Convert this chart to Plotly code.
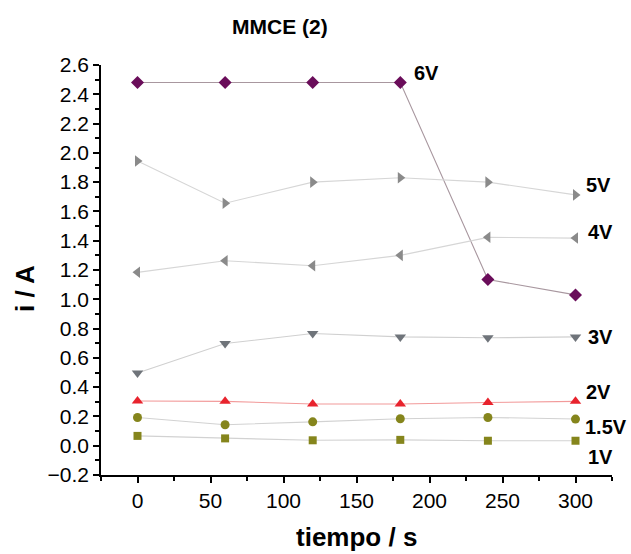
import plotly.graph_objects as go

# Sampling times (s)
tiempo = [0, 60, 120, 180, 240, 300]

# Current (A) for each applied voltage
i_6v = [2.48, 2.48, 2.48, 2.48, 1.135, 1.03]
i_5v = [1.945, 1.656, 1.80, 1.83, 1.80, 1.713]
i_4v = [1.184, 1.263, 1.229, 1.30, 1.423, 1.418]
i_3v = [0.497, 0.698, 0.766, 0.743, 0.737, 0.743]
i_2v = [0.305, 0.303, 0.285, 0.285, 0.295, 0.303]
i_1_5v = [0.193, 0.143, 0.163, 0.184, 0.193, 0.182]
i_1v = [0.067, 0.05, 0.037, 0.04, 0.034, 0.034]

series_labels = ["6V", "5V", "4V", "3V", "2V", "1.5V", "1V"]
series_values = [i_6v, i_5v, i_4v, i_3v, i_2v, i_1_5v, i_1v]

styles = {
    "6V": dict(symbol="diamond", color="#6a0d5a", line="#a8979f", size=10),
    "5V": dict(symbol="triangle-right", color="#8a8a8a", line="#d6d6d6", size=10),
    "4V": dict(symbol="triangle-left", color="#8a8a8a", line="#d6d6d6", size=10),
    "3V": dict(symbol="triangle-down", color="#6f747a", line="#d0d0d0", size=10),
    "2V": dict(symbol="triangle-up", color="#e8232d", line="#f29a9a", size=10),
    "1.5V": dict(symbol="circle", color="#85851c", line="#d2d2d2", size=9),
    "1V": dict(symbol="square", color="#85851c", line="#d2d2d2", size=8),
}

# Label anchor points (data coordinates) for the voltage tags
label_pos = {
    "6V": (188, 2.545),
    "5V": (306, 1.78),
    "4V": (307, 1.46),
    "3V": (307, 0.74),
    "2V": (306, 0.366),
    "1.5V": (305, 0.127),
    "1V": (307, -0.078),
}

fig = go.Figure()
for name, vals in zip(series_labels, series_values):
    st = styles[name]
    fig.add_trace(go.Scatter(
        x=tiempo, y=vals, mode="lines+markers", name=name,
        line=dict(color=st["line"], width=1.1),
        marker=dict(symbol=st["symbol"], color=st["color"], size=st["size"],
                    line=dict(width=0)),
        showlegend=False,
    ))

font_family = "Liberation Sans, Arial, sans-serif"

for name in series_labels:
    lx, ly = label_pos[name]
    fig.add_annotation(x=lx, y=ly, xref="x", yref="y", text="<b>" + name + "</b>",
                       showarrow=False, xanchor="left", yanchor="middle",
                       font=dict(family=font_family, size=20, color="black"))

# Title and axis titles
fig.add_annotation(x=(280 - 101) / 511, y=(475 - 27) / 410, xref="paper", yref="paper",
                   text="<b>MMCE (2)</b>", showarrow=False, xanchor="center", yanchor="middle",
                   font=dict(family=font_family, size=21, color="black"))
fig.add_annotation(x=0.5, y=(475 - 537) / 410, xref="paper", yref="paper",
                   text="<b>tiempo / s</b>", showarrow=False, xanchor="center", yanchor="middle",
                   font=dict(family=font_family, size=26, color="black"))
fig.add_annotation(x=(25 - 101) / 511, y=(475 - 289) / 410, xref="paper", yref="paper",
                   text="<b>i / A</b>", showarrow=False, textangle=-90,
                   xanchor="center", yanchor="middle",
                   font=dict(family=font_family, size=26, color="black"))

axis_common = dict(
    showline=True, linecolor="black", linewidth=1.5, mirror=False,
    ticks="outside", ticklen=6, tickwidth=1.5, tickcolor="black",
    showgrid=False, zeroline=False,
    tickfont=dict(family=font_family, size=21, color="black"),
)

fig.update_xaxes(range=[-25, 325], tickmode="array", tickvals=[0, 50, 100, 150, 200, 250, 300],
                 minor=dict(dtick=25, tick0=0, ticks="outside", ticklen=4, tickwidth=1.5,
                            tickcolor="black", showgrid=False),
                 **axis_common)
fig.update_yaxes(range=[-0.2, 2.6], tick0=-0.2, dtick=0.2, tickformat=".1f",
                 minor=dict(dtick=0.1, tick0=0, ticks="outside", ticklen=4, tickwidth=1.5,
                            tickcolor="black", showgrid=False),
                 **axis_common)

fig.update_layout(
    width=631, height=554, autosize=False,
    margin=dict(l=101, r=19, t=65, b=79),
    paper_bgcolor="white", plot_bgcolor="white",
)

fig.write_html("out.html")
